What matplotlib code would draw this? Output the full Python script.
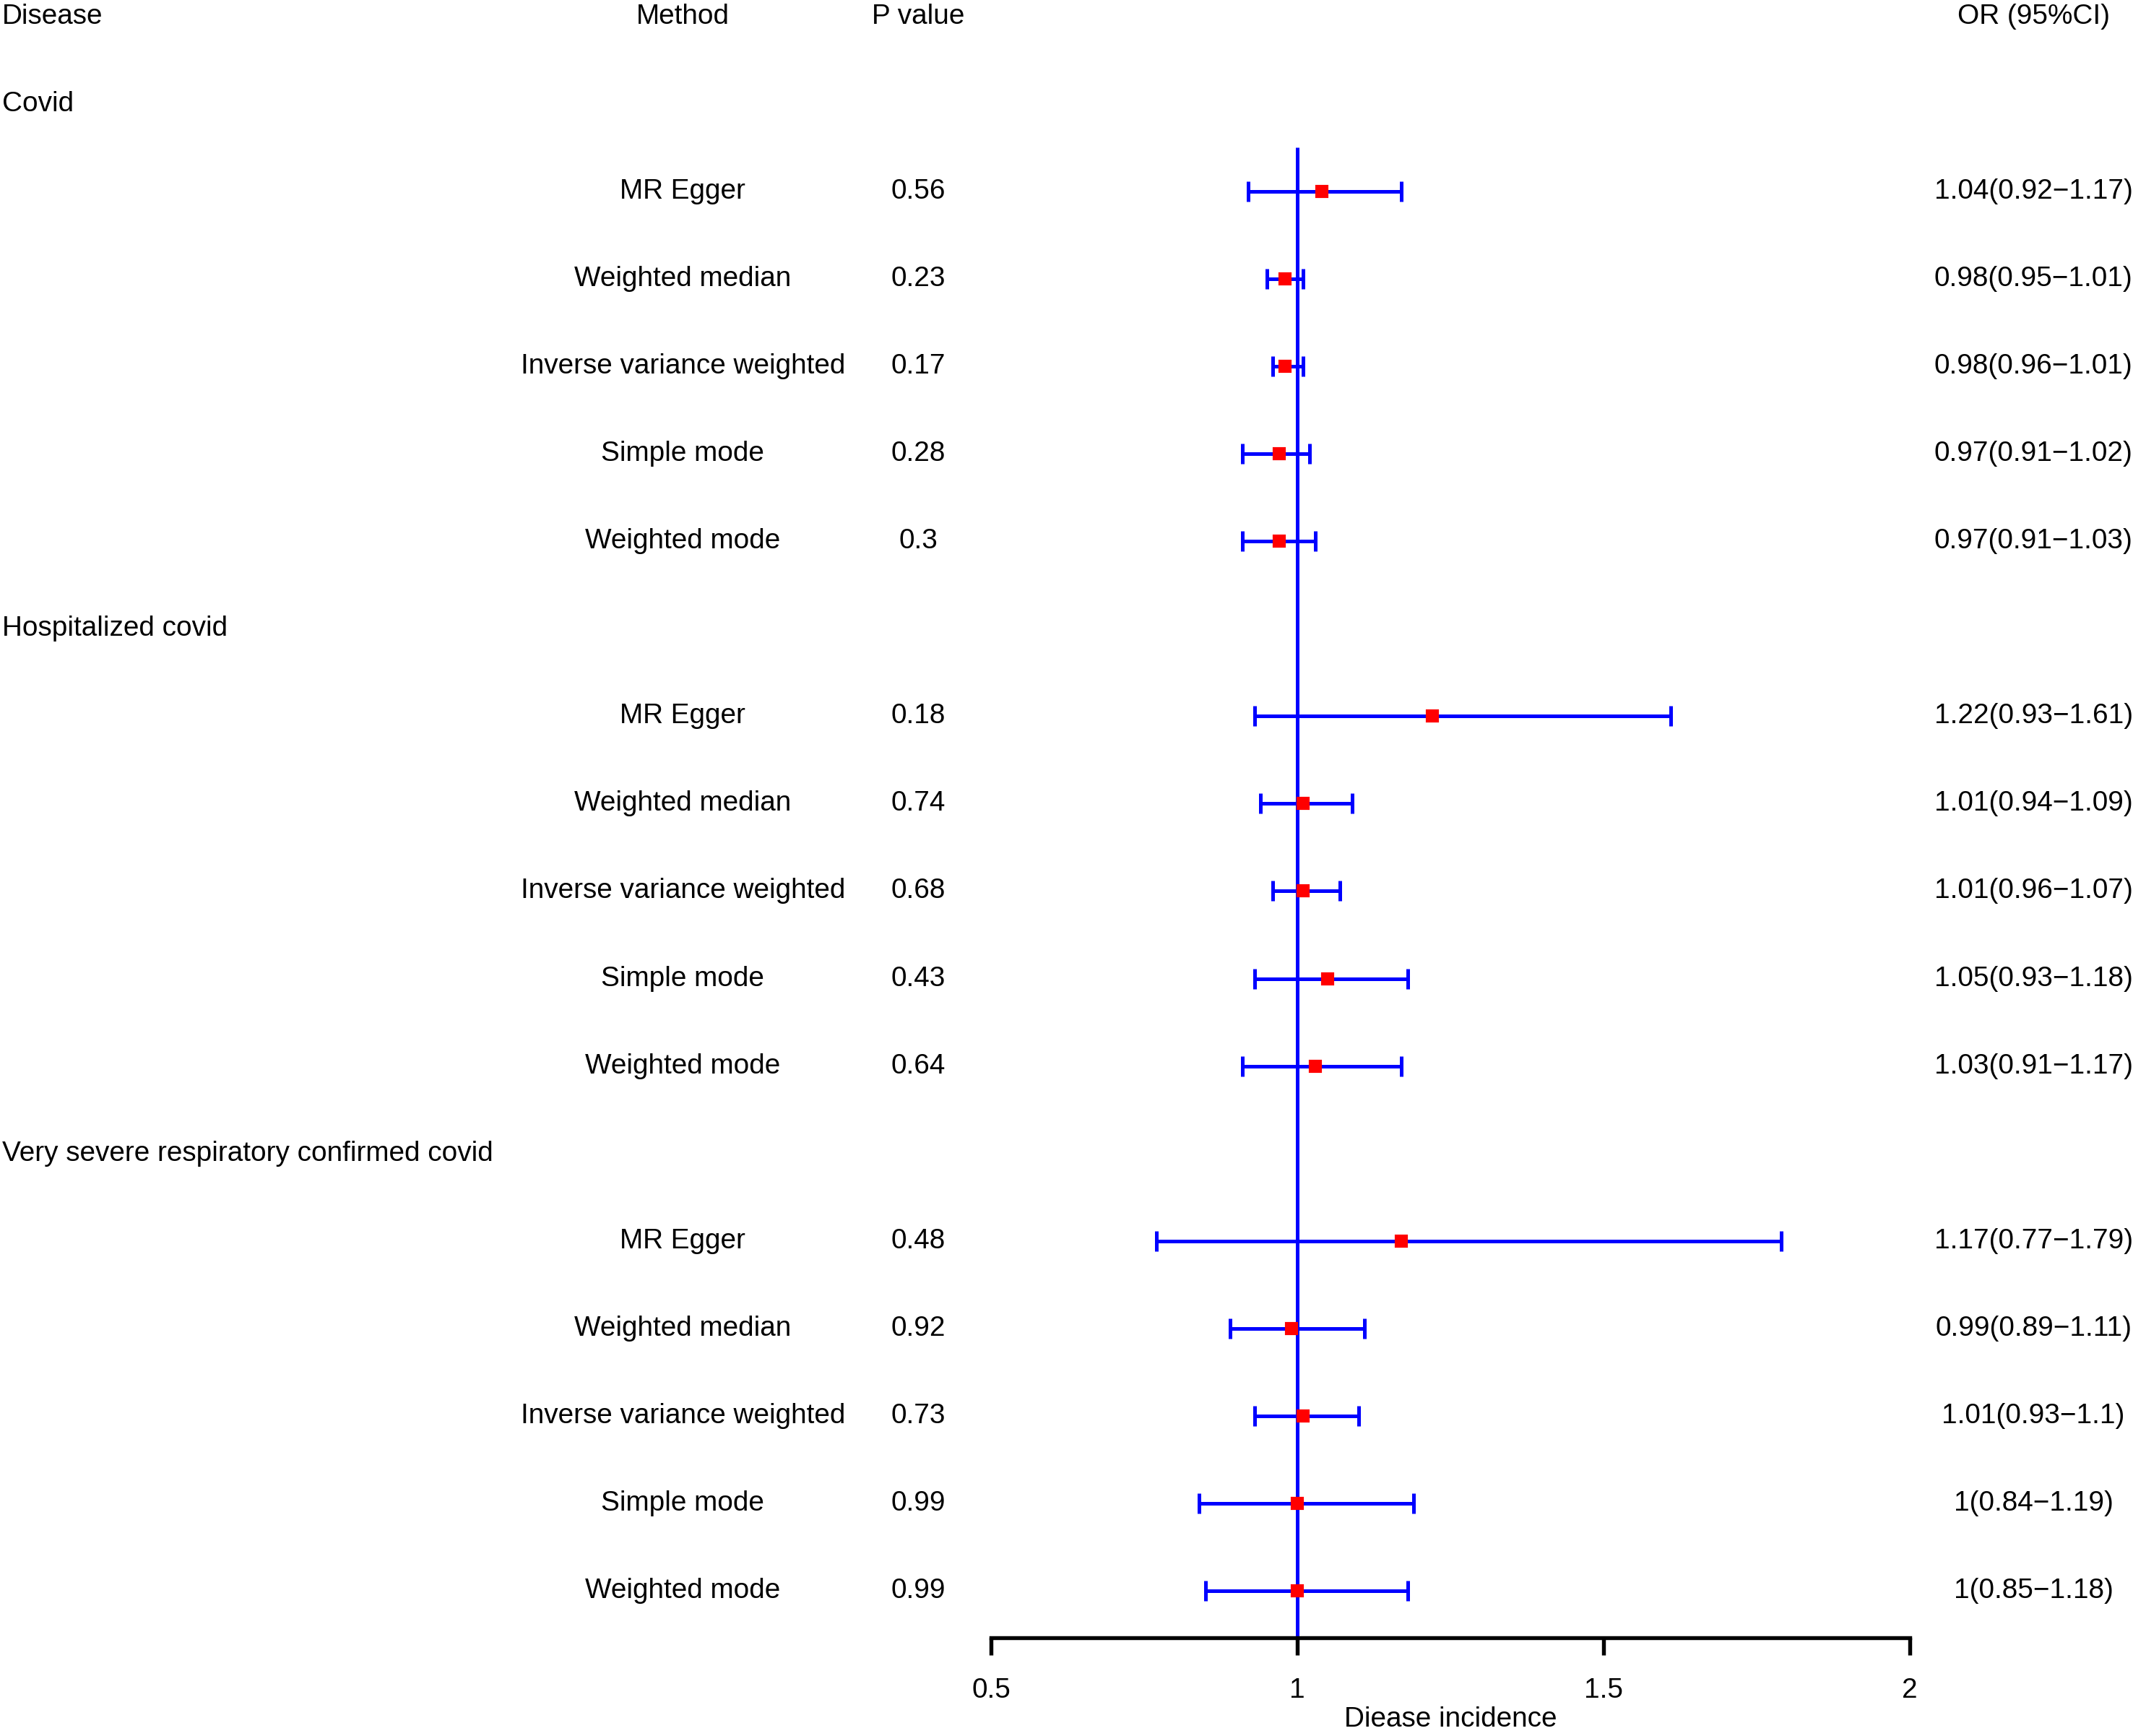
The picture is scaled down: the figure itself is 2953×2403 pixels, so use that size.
import matplotlib.pyplot as plt
from matplotlib.transforms import blended_transform_factory

plt.rcParams['font.family'] = ['Liberation Sans', 'DejaVu Sans']

# data
diseases = ['Covid', 'Hospitalized covid', 'Very severe respiratory confirmed covid']
methods = ['MR Egger', 'Weighted median', 'Inverse variance weighted',
           'Simple mode', 'Weighted mode']
or_vals = [1.04, 0.98, 0.98, 0.97, 0.97,
           1.22, 1.01, 1.01, 1.05, 1.03,
           1.17, 0.99, 1.01, 1.00, 1.00]
ci_low = [0.92, 0.95, 0.96, 0.91, 0.91,
          0.93, 0.94, 0.96, 0.93, 0.91,
          0.77, 0.89, 0.93, 0.84, 0.85]
ci_high = [1.17, 1.01, 1.01, 1.02, 1.03,
           1.61, 1.09, 1.07, 1.18, 1.17,
           1.79, 1.11, 1.10, 1.19, 1.18]
p_vals = [0.56, 0.23, 0.17, 0.28, 0.3,
          0.18, 0.74, 0.68, 0.43, 0.64,
          0.48, 0.92, 0.73, 0.99, 0.99]
xticks = [0.5, 1, 1.5, 2]

fs = 9.3
fig = plt.figure(figsize=(2953 / 300, 2403 / 300), dpi=300)
ax = fig.add_axes([0.4646, 0.0566, 0.4308, 0.9340])
ybot = -18.536
ax.set_xlim(0.5, 2)
ax.set_ylim(ybot, 0)

tr = blended_transform_factory(fig.transFigure, ax.transData)
x_dis, x_met, x_p, x_or = 0.001, 0.3201, 0.4304, 0.9533

# header row
ax.text(x_dis, 0, 'Disease', transform=tr, ha='left', va='center', fontsize=fs)
ax.text(x_met, 0, 'Method', transform=tr, ha='center', va='center', fontsize=fs)
ax.text(x_p, 0, 'P value', transform=tr, ha='center', va='center', fontsize=fs)
ax.text(x_or, 0, 'OR (95%CI)', transform=tr, ha='center', va='center', fontsize=fs)

# reference line at OR = 1
ax.vlines(1, ybot, -1.5, color='blue', lw=1.2, zorder=1)

k = 0
for g, dis in enumerate(diseases):
    yh = -(1 + g * 6)
    ax.text(x_dis, yh, dis, transform=tr, ha='left', va='center', fontsize=fs)
    for j, m in enumerate(methods):
        y = yh - 1 - j
        ax.text(x_met, y, m, transform=tr, ha='center', va='center', fontsize=fs)
        ax.text(x_p, y, f'{p_vals[k]:g}', transform=tr, ha='center', va='center', fontsize=fs)
        lab = f'{or_vals[k]:g}({ci_low[k]:g}\u2212{ci_high[k]:g})'
        ax.text(x_or, y, lab, transform=tr, ha='center', va='center', fontsize=fs)
        ax.errorbar(or_vals[k], y,
                    xerr=[[or_vals[k] - ci_low[k]], [ci_high[k] - or_vals[k]]],
                    fmt='none', ecolor='blue', elinewidth=1.2, capsize=3.4,
                    capthick=1.2, zorder=2)
        ax.plot(or_vals[k], y, marker='s', color='red', markersize=3.4,
                linestyle='none', zorder=3)
        k += 1

for s in ['left', 'right', 'top']:
    ax.spines[s].set_visible(False)
ax.spines['bottom'].set_linewidth(1.3)
ax.spines['bottom'].set_bounds(0.5, 2)
ax.set_yticks([])
ax.set_xticks(xticks)
ax.set_xticklabels([f'{t:g}' for t in xticks])
ax.tick_params(axis='x', length=5.8, width=1.3, pad=7.5, labelsize=fs)
ax.set_xlabel('Diease incidence', fontsize=fs, va='center')
ax.xaxis.set_label_coords(0.5, -0.0505)
ax.patch.set_visible(False)

fig.savefig('out.png', dpi=300)
